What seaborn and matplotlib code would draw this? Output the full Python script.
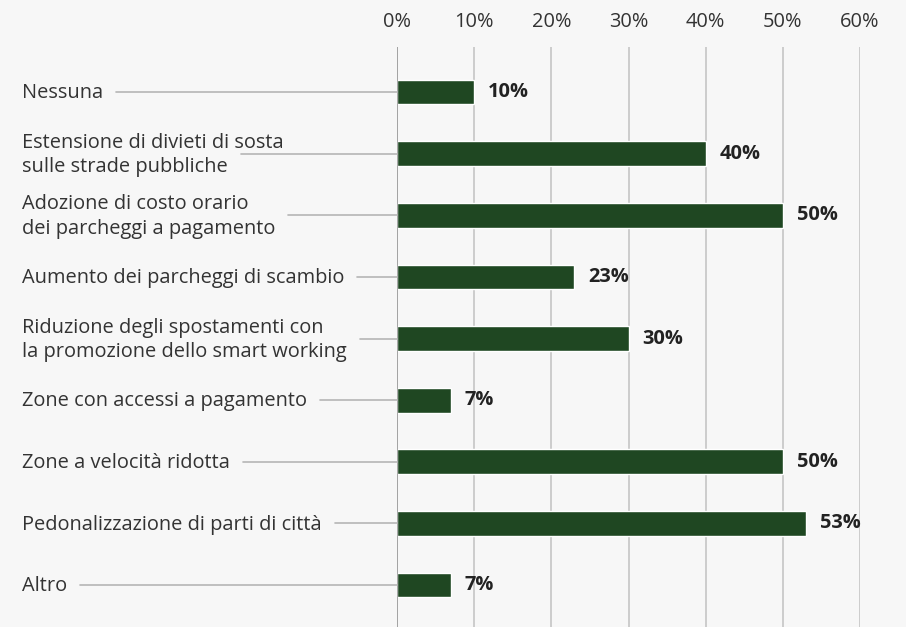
import matplotlib
matplotlib.use("Agg")
import matplotlib.pyplot as plt
import matplotlib.transforms as mtransforms
from matplotlib.lines import Line2D
import seaborn as sns
import pandas as pd

categories = [
    "Nessuna",
    "Estensione di divieti di sosta\nsulle strade pubbliche",
    "Adozione di costo orario\ndei parcheggi a pagamento",
    "Aumento dei parcheggi di scambio",
    "Riduzione degli spostamenti con\nla promozione dello smart working",
    "Zone con accessi a pagamento",
    "Zone a velocità ridotta",
    "Pedonalizzazione di parti di città",
    "Altro",
]
values = [10, 40, 50, 23, 30, 7, 50, 53, 7]
x_ticks = [0, 10, 20, 30, 40, 50, 60]
x_tick_labels = ["0%", "10%", "20%", "30%", "40%", "50%", "60%"]

W, H = 906, 627
BG = "#f7f7f7"
BAR = "#1f4722"
FONT = "Open Sans"
FS = 14.4

sns.set_theme(style="white")
plt.rcParams["font.family"] = [FONT, "DejaVu Sans"]

fig = plt.figure(figsize=(W / 100, H / 100), dpi=100, facecolor=BG)
ax = fig.add_axes([397 / W, 0, (860 - 397) / W, (627 - 47) / H])
ax.set_facecolor(BG)

df = pd.DataFrame({"cat": categories, "val": values})
sns.barplot(data=df, x="val", y="cat", orient="h", color=BAR, width=0.4,
            saturation=1, ax=ax, zorder=3)

ax.set_xlim(0, 60)
ax.set_ylim(len(categories) - 1 + 0.68, -0.73)
ax.set_xlabel("")
ax.set_ylabel("")
for s in ax.spines.values():
    s.set_visible(False)

ax.xaxis.tick_top()
ax.set_xticks(x_ticks)
ax.set_xticklabels(x_tick_labels, fontsize=FS, color="#333333")
ax.tick_params(axis="x", length=0, pad=10.5)
ax.set_yticks([])
ax.grid(axis="x", color="#c9c9c9", linewidth=1.3, zorder=0)
ax.grid(axis="y", visible=False)
ax.axvline(0, color="#a0a0a0", linewidth=1.3, zorder=4)

# value labels
cont = ax.containers[0]
ax.bar_label(cont, labels=[f"{v}%" for v in values], padding=10,
             fontsize=FS, fontweight="bold", color="#222222")

# category labels with connector lines
trans = mtransforms.blended_transform_factory(fig.transFigure, ax.transData)
fig.canvas.draw()
renderer = fig.canvas.get_renderer()
for i, lab in enumerate(categories):
    t = fig.text(22 / W, 0, lab, fontsize=FS, color="#333333",
                 ha="left", va="center", linespacing=1.3, transform=trans)
    t.set_y(i + 0.02)
    last = lab.split("\n")[-1]
    tmp = fig.text(22 / W, 0, last, fontsize=FS, transform=trans)
    bb = tmp.get_window_extent(renderer)
    tmp.remove()
    x_end = bb.x1 + 13
    line = Line2D([x_end / W, 397 / W], [i, i], transform=trans,
                  color="#b5b5b5", linewidth=1.2)
    fig.add_artist(line)

fig.savefig("out.png", dpi=100, facecolor=BG)
